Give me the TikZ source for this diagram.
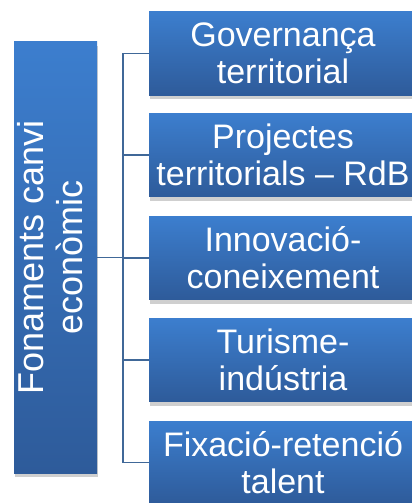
\documentclass[tikz,border=0pt]{standalone}
\usepackage{fontspec}
\setmainfont{Liberation Sans}
\usetikzlibrary{shadows}
\definecolor{boxtop}{RGB}{60,126,206}
\definecolor{boxbot}{RGB}{46,91,154}
\definecolor{linec}{RGB}{64,104,152}
\definecolor{shadowc}{RGB}{120,120,120}
\tikzset{
  catbox/.style={rectangle, top color=boxtop, bottom color=boxbot, draw=none,
    text=white, align=center, inner sep=0pt,
    drop shadow={shadow xshift=1pt, shadow yshift=-4pt, opacity=0.35, fill=shadowc},
    font=\fontsize{34}{37}\selectfont},
  subbox/.style={catbox, minimum width=268pt, minimum height=83pt},
  mainbox/.style={catbox, minimum width=83pt, minimum height=431pt,
    font=\fontsize{36}{39}\selectfont},
  conn/.style={draw=linec, line width=1.5pt}
}
\begin{document}
\begin{tikzpicture}[x=1pt,y=-1pt]
\useasboundingbox (0,0) rectangle (412,503);
\clip (0,0) rectangle (412,503);
\fill[white] (0,0) rectangle (412,503);
\node[mainbox] (L) at (55.5,257.5) {\rotatebox{90}{\begin{tabular}{@{}c@{}}Fonaments canvi\\ econòmic\end{tabular}}};
\node[subbox] (R1) at (283,53.5) {Governança\\ territorial};
\node[subbox] (R2) at (283,155) {Projectes\\ territorials – RdB};
\node[subbox] (R3) at (283,258) {Innovació-\\ coneixement};
\node[subbox] (R4) at (283,360) {Turisme-\\ indústria};
\node[subbox] (R5) at (283,462.5) {Fixació-retenció\\ talent};
\coordinate (J) at (123,257.5);
\draw[conn] (L.east) -- (J);
\foreach \r in {R1,R2,R3,R4,R5} { \draw[conn] (J) |- (\r.west); }
\end{tikzpicture}
\end{document}
